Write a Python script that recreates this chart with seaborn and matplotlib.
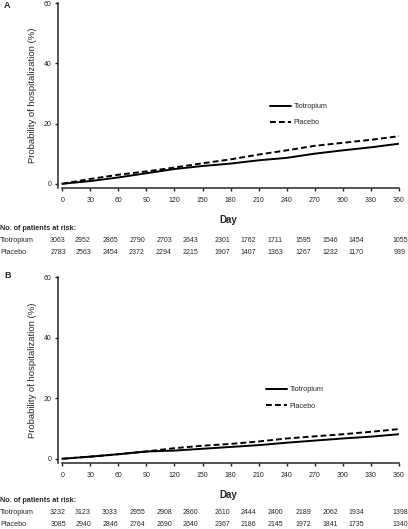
import numpy as np
import pandas as pd
import matplotlib
matplotlib.use("Agg")
import matplotlib.pyplot as plt
import seaborn as sns

days = [0, 30, 60, 90, 120, 150, 180, 210, 240, 270, 300, 330, 360]

a_tio = [0, 0.9, 2.1, 3.5, 4.9, 5.9, 6.7, 7.8, 8.6, 10.0, 11.1, 12.1, 13.3]
a_plac = [0, 1.6, 3.0, 4.1, 5.4, 6.8, 8.1, 9.7, 11.1, 12.6, 13.6, 14.6, 15.8]
b_tio = [0, 0.7, 1.5, 2.4, 2.7, 3.3, 3.9, 4.5, 5.3, 6.0, 6.7, 7.3, 8.1]
b_plac = [0, 0.7, 1.5, 2.4, 3.5, 4.3, 4.9, 5.7, 6.7, 7.4, 8.1, 8.9, 9.8]

a_risk_tio = [3063, 2952, 2865, 2790, 2703, 2643, 2301, 1762, 1711, 1595, 1546, 1454, 1055]
a_risk_plac = [2783, 2563, 2454, 2372, 2294, 2215, 1907, 1407, 1363, 1267, 1232, 1170, 939]
b_risk_tio = [3232, 3123, 3033, 2955, 2908, 2860, 2610, 2444, 2400, 2189, 2062, 1934, 1398]
b_risk_plac = [3085, 2940, 2846, 2764, 2690, 2640, 2367, 2186, 2145, 1972, 1841, 1735, 1340]

labels = ["Tiotropium", "Placebo"]
y_ticks = [0, 20, 40, 60]

sns.set_style("ticks")
plt.rcParams["font.family"] = ["Liberation Sans", "DejaVu Sans"]
plt.rcParams["axes.linewidth"] = 1.1
plt.rcParams["xtick.major.width"] = 1.0
plt.rcParams["ytick.major.width"] = 1.0
plt.rcParams["xtick.major.size"] = 2.5
plt.rcParams["ytick.major.size"] = 2.5

W, H = 408, 529
fig = plt.figure(figsize=(W / 100, H / 100), dpi=100)

def fx(px):
    return px / W

def fy(py):
    return 1 - py / H

# column centres (px) for the risk table
col_px = [58, 83, 110, 137, 164, 190, 222, 248, 275, 303, 330, 356, 400]

def panel(letter, tio, plac, risk_t, risk_p, top_px, bot_px, leg_px, tbl_px, letter_px):
    ax = fig.add_axes([fx(58), fy(bot_px), fx(399) - fx(58), fy(top_px) - fy(bot_px)])
    df = pd.DataFrame({
        "day": days * 2,
        "prob": tio + plac,
        "group": [labels[0]] * len(days) + [labels[1]] * len(days),
    })
    sns.lineplot(data=df, x="day", y="prob", style="group", style_order=labels,
                 dashes={labels[0]: "", labels[1]: (3, 1.6)}, color="black",
                 linewidth=1.4, ax=ax)
    ax.set_xlim(-4.5, 360)
    ax.set_ylim(-1.4, 60)
    ax.set_xticks(days)
    ax.set_yticks(y_ticks)
    ax.tick_params(labelsize=5.0, colors="#222222")
    ax.tick_params(axis="x", pad=4)
    ax.tick_params(axis="y", pad=2)
    ax.set_xlabel("Day", fontsize=7, fontweight="bold", labelpad=8)
    ax.set_ylabel("Probability of hospitalization (%)", fontsize=6.8, labelpad=5)
    sns.despine(ax=ax)
    ax.spines["bottom"].set_bounds(0, 360)
    ax.spines["left"].set_bounds(-1.4, 60)
    ax.legend(loc="upper left", bbox_to_anchor=(fx(leg_px[0]), fy(leg_px[1])),
              bbox_transform=fig.transFigure, frameon=False, fontsize=5.2,
              handlelength=2.9, handletextpad=0.35, labelspacing=1.3,
              borderpad=0, borderaxespad=0)
    fig.text(fx(4), fy(letter_px), letter, fontsize=6.5, fontweight="bold", va="center")
    fig.text(fx(0), fy(tbl_px[0]), "No. of patients at risk:", fontsize=5.2,
             fontweight="bold", va="center")
    for name, vals, py in ((labels[0], risk_t, tbl_px[1]), (labels[1], risk_p, tbl_px[2])):
        fig.text(fx(0), fy(py), name, fontsize=5.2, va="center")
        for cx, v in zip(col_px, vals):
            fig.text(fx(cx), fy(py), str(v), fontsize=5.0, va="center", ha="center")
    return ax

panel("A", a_tio, a_plac, a_risk_tio, a_risk_plac, 3, 188, (270, 103), (229, 241, 253), 5)
panel("B", b_tio, b_plac, b_risk_tio, b_risk_plac, 277, 463, (266, 386), (500, 513, 524), 276)

fig.savefig("out.png", dpi=100)
